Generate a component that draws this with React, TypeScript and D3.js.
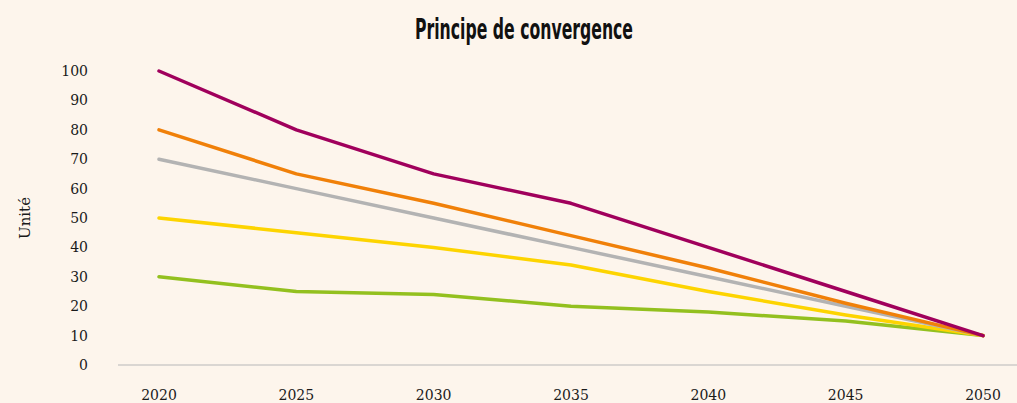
import { useEffect, useRef } from 'react';
import * as d3 from 'd3';

const years = [2020, 2025, 2030, 2035, 2040, 2045, 2050];
const yTicks = [0, 10, 20, 30, 40, 50, 60, 70, 80, 90, 100];

const purple = [100, 80, 65, 55, 40, 25, 10];
const orange = [80, 65, 55, 44, 33, 21, 10];
const grey = [70, 60, 50, 40, 30, 20, 10];
const yellow = [50, 45, 40, 34, 25, 17, 10];
const green = [30, 25, 24, 20, 18, 15, 10];

const series = [
  { name: 'Scénario 5', values: green, color: '#93c01f' },
  { name: 'Scénario 4', values: yellow, color: '#fdd400' },
  { name: 'Scénario 3', values: grey, color: '#b3b3b3' },
  { name: 'Scénario 2', values: orange, color: '#f08009' },
  { name: 'Scénario 1', values: purple, color: '#a0005c' },
];

const W = 1017;
const H = 403;
const serif = '"DejaVu Serif", "Liberation Serif", serif';

export default function App() {
  const ref = useRef<SVGSVGElement>(null);

  useEffect(() => {
    if (!ref.current) return;
    const svg = d3.select(ref.current);
    svg.selectAll('*').remove();

    svg.append('rect').attr('width', W).attr('height', H).attr('fill', '#fdf5ec');

    const x = d3.scalePoint<number>().domain(years).range([159, 983]);
    const y = d3.scaleLinear().domain([0, 100]).range([365, 71]);

    // title, squeezed to look like the condensed face of the original
    svg
      .append('text')
      .attr('x', 524)
      .attr('y', 39)
      .attr('text-anchor', 'middle')
      .attr('font-family', '"Liberation Sans Narrow", "DejaVu Sans", sans-serif')
      .attr('font-weight', 700)
      .attr('font-size', 29)
      .attr('textLength', 218)
      .attr('lengthAdjust', 'spacingAndGlyphs')
      .attr('fill', '#111')
      .text('Principe de convergence');

    // y axis labels
    svg
      .append('g')
      .selectAll('text')
      .data(yTicks)
      .join('text')
      .attr('x', 88)
      .attr('y', (d) => y(d))
      .attr('dy', '0.35em')
      .attr('text-anchor', 'end')
      .attr('font-family', serif)
      .attr('font-size', 14)
      .attr('fill', '#1a1a1a')
      .text((d) => d);

    svg
      .append('text')
      .attr('transform', `translate(30,${218}) rotate(-90)`)
      .attr('text-anchor', 'middle')
      .attr('font-family', serif)
      .attr('font-size', 15)
      .attr('fill', '#1a1a1a')
      .text('Unité');

    // x axis line
    svg
      .append('line')
      .attr('x1', 118)
      .attr('x2', W)
      .attr('y1', y(0))
      .attr('y2', y(0))
      .attr('stroke', '#b8b8b8')
      .attr('stroke-width', 1.2);

    svg
      .append('g')
      .selectAll('text')
      .data(years)
      .join('text')
      .attr('x', (d) => x(d)!)
      .attr('y', 400)
      .attr('text-anchor', 'middle')
      .attr('font-family', serif)
      .attr('font-size', 14)
      .attr('fill', '#1a1a1a')
      .text((d) => d);

    const line = d3
      .line<number>()
      .x((_, i) => x(years[i])!)
      .y((d) => y(d));

    svg
      .append('g')
      .selectAll('path')
      .data(series)
      .join('path')
      .attr('fill', 'none')
      .attr('stroke', (d) => d.color)
      .attr('stroke-width', 3.5)
      .attr('stroke-linejoin', 'round')
      .attr('stroke-linecap', 'round')
      .attr('d', (d) => line(d.values));
  }, []);

  return <svg ref={ref} width={W} height={H} style={{ position: 'absolute', left: 0, top: 0 }} />;
}
